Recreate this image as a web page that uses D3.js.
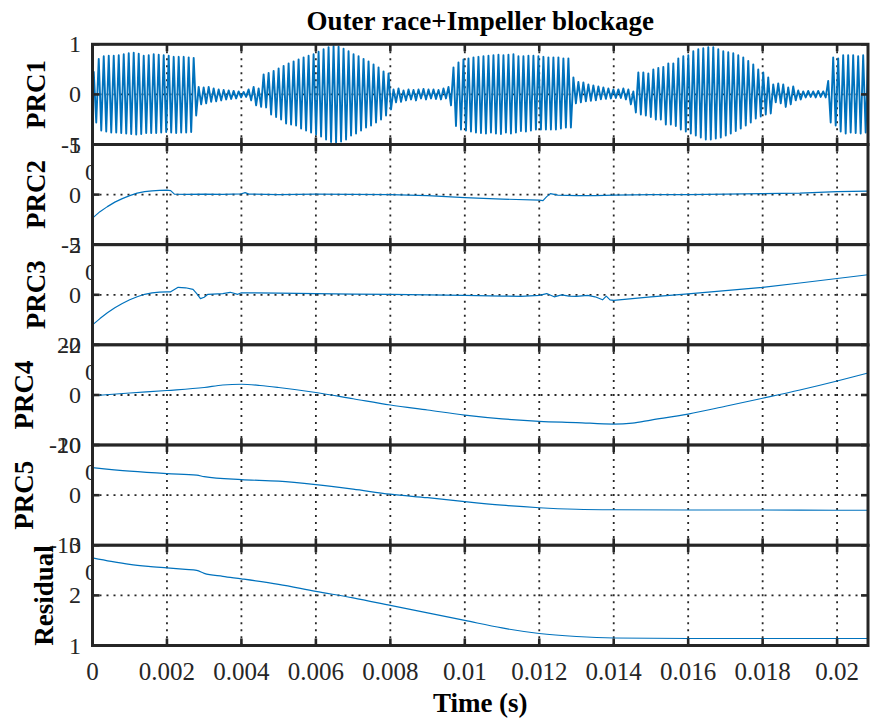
<!DOCTYPE html>
<html><head><meta charset="utf-8">
<script src="https://cdn.jsdelivr.net/npm/d3@7"></script>
<style>body{margin:0;background:#fff} svg{display:block}</style>
</head><body><svg id="c" width="872" height="722"></svg>
<script>
// ---------------- DATA ----------------
const chartTitle = "Outer race+Impeller blockage";
const xLabel = "Time (s)";
const timeTicks = [0,0.002,0.004,0.006,0.008,0.01,0.012,0.014,0.016,0.018,0.02];
const timeTickLabels = ["0","0.002","0.004","0.006","0.008","0.01","0.012","0.014","0.016","0.018","0.02"];
const timeMax = 0.02083;

const panelNames = ["PRC1","PRC2","PRC3","PRC4","PRC5","Residual"];
const panelDomains = [[-1,1],[-5,5],[-2,2],[-20,20],[-10,10],[1,3]];
const panelTicks = [[-1,0,1],[-5,0,5],[-2,0,2],[-20,0,20],[-10,0,10],[1,2,3]];
const panelGridValues = [0,0,0,0,0,2];

// PRC1: oscillation, one peak and one trough per cycle
const prc1Period = 0.0001342;
const prc1Hi = [0.45,0.71,0.76,0.77,0.77,0.78,0.80,0.82,0.83,0.81,0.77,0.78,0.80,0.79,0.78,0.77,0.75,0.75,0.75,0.74,0.73,
 0.15,0.14,0.15,0.12,0.10,0.09,0.08,0.07,0.06,0.05,
 0.10,0.15,0.12,
 0.40,0.43,0.47,0.52,0.57,0.62,0.66,0.70,0.74,0.77,0.80,0.85,0.90,0.94,0.96,0.95,0.91,0.86,0.80,0.76,0.71,0.66,0.60,0.54,0.46,0.42,
 0.10,0.12,0.08,0.10,0.09,0.10,0.11,0.10,0.10,0.09,0.12,0.15,
 0.54,0.64,0.70,0.72,0.74,0.75,0.76,0.77,0.78,0.79,0.78,0.79,0.80,0.76,0.76,0.77,0.77,0.76,0.75,0.74,0.74,0.74,0.72,0.72,
 0.34,0.25,0.24,0.20,0.18,0.16,0.14,0.12,0.10,0.10,0.12,0.10,0.06,
 0.44,0.44,0.42,0.50,0.53,0.55,0.62,0.62,0.72,0.76,0.78,0.86,0.90,0.92,0.94,0.94,0.90,0.86,0.84,0.82,0.78,0.74,0.67,0.60,0.50,0.44,0.34,
 0.20,0.22,0.20,0.14,0.16,0.08,
 0.06,0.07,0.06,0.07,0.06,
 0.27,0.74,0.72,0.78,0.78,0.78,0.76,0.78,0.80];
const prc1Lo = [-0.56,-0.72,-0.74,-0.76,-0.76,-0.77,-0.78,-0.79,-0.80,-0.79,-0.77,-0.77,-0.77,-0.76,-0.75,-0.76,-0.77,-0.76,-0.76,-0.75,-0.42,
 -0.20,-0.18,-0.15,-0.14,-0.12,-0.10,-0.09,-0.08,-0.06,-0.05,
 -0.12,-0.22,-0.25,
 -0.26,-0.40,-0.45,-0.50,-0.58,-0.60,-0.62,-0.68,-0.72,-0.76,-0.80,-0.84,-0.90,-0.95,-0.96,-0.94,-0.90,-0.82,-0.78,-0.72,-0.66,-0.62,-0.56,-0.50,-0.42,-0.30,
 -0.16,-0.15,-0.12,-0.10,-0.12,-0.08,-0.10,-0.08,-0.09,-0.10,-0.08,-0.22,
 -0.63,-0.70,-0.72,-0.74,-0.76,-0.77,-0.78,-0.76,-0.78,-0.79,-0.76,-0.78,-0.76,-0.73,-0.74,-0.72,-0.70,-0.70,-0.70,-0.70,-0.70,-0.68,-0.66,-0.66,
 -0.18,-0.16,-0.14,-0.13,-0.12,-0.10,-0.09,-0.08,-0.07,-0.07,-0.10,-0.20,-0.36,
 -0.40,-0.42,-0.45,-0.50,-0.50,-0.60,-0.60,-0.63,-0.70,-0.74,-0.78,-0.82,-0.86,-0.90,-0.90,-0.88,-0.86,-0.82,-0.78,-0.73,-0.68,-0.62,-0.56,-0.48,-0.44,-0.40,-0.38,
 -0.16,-0.18,-0.25,-0.20,-0.12,-0.10,
 -0.06,-0.05,-0.06,-0.05,-0.06,
 -0.56,-0.62,-0.74,-0.78,-0.76,-0.77,-0.78,-0.76,-0.78];

const prc2Time = [0,0.0002,0.0004,0.0006,0.0008,0.001,0.0012,0.0014,0.0016,0.0018,0.002,0.0021,0.0022,0.0025,0.003,0.0035,0.004,0.0041,0.0042,0.005,0.006,0.007,0.008,0.009,0.010,0.011,0.012,0.0121,0.0122,0.0123,0.0125,0.013,0.0135,0.014,0.015,0.016,0.017,0.018,0.019,0.020,0.02083];
const prc2Vals = [-2.35,-1.7,-1.2,-0.75,-0.4,-0.1,0.15,0.3,0.38,0.43,0.45,0.4,0.05,0.02,0.05,0.02,0.08,0.2,0.05,0.0,0.05,0.02,0.0,-0.1,-0.3,-0.45,-0.55,-0.6,-0.2,0.1,-0.05,-0.1,-0.1,-0.05,0.0,0.0,0.05,0.1,0.15,0.3,0.35];

const prc3Time = [0,0.0002,0.0004,0.0006,0.0008,0.001,0.0012,0.0014,0.0016,0.0018,0.002,0.0021,0.0023,0.0025,0.0027,0.0028,0.0029,0.003,0.0031,0.0035,0.0037,0.0039,0.004,0.005,0.006,0.007,0.008,0.009,0.010,0.011,0.0115,0.012,0.0122,0.0124,0.0126,0.0128,0.013,0.0133,0.0135,0.0137,0.0138,0.0139,0.014,0.015,0.016,0.017,0.018,0.019,0.020,0.02083];
const prc3Vals = [-1.2,-0.95,-0.72,-0.52,-0.35,-0.2,-0.08,0.02,0.08,0.11,0.12,0.12,0.3,0.28,0.22,0.05,-0.15,-0.1,0.02,0.05,0.1,0.02,0.08,0.07,0.05,0.03,0.02,0.0,-0.02,-0.05,-0.06,-0.02,0.05,-0.08,0.0,-0.05,-0.06,-0.02,-0.08,-0.2,-0.05,-0.2,-0.22,-0.08,0.04,0.17,0.3,0.47,0.65,0.8];

const prc4Time = [0,0.001,0.002,0.003,0.0035,0.004,0.0045,0.005,0.006,0.007,0.008,0.009,0.010,0.011,0.012,0.013,0.014,0.0145,0.015,0.016,0.017,0.018,0.019,0.020,0.02083];
const prc4Vals = [-0.3,0.8,1.8,3.0,4.0,4.3,3.8,3.0,1.0,-1.5,-4.0,-6.0,-8.0,-9.5,-10.5,-11.0,-11.6,-11.2,-10.0,-7.6,-4.5,-1.3,2.0,5.6,8.8];

const prc5Time = [0,0.001,0.002,0.0028,0.003,0.004,0.005,0.006,0.007,0.008,0.009,0.010,0.011,0.012,0.013,0.014,0.016,0.018,0.020,0.02083];
const prc5Vals = [5.5,4.8,4.3,4.0,3.7,3.1,2.8,2.1,1.2,0.2,-0.5,-1.3,-2.0,-2.5,-2.8,-2.9,-2.95,-2.95,-3.0,-3.0];

const residTime = [0,0.0005,0.001,0.0015,0.002,0.0025,0.0028,0.003,0.0035,0.004,0.005,0.006,0.007,0.008,0.009,0.010,0.011,0.012,0.013,0.014,0.016,0.018,0.020,0.02083];
const residVals = [2.75,2.68,2.62,2.58,2.55,2.52,2.5,2.44,2.38,2.33,2.22,2.08,1.95,1.8,1.65,1.5,1.35,1.24,1.18,1.15,1.14,1.14,1.14,1.14];

// ---------------- BUILD ----------------
const prc1Points = [[0,0]];
prc1Hi.forEach((h,k)=>{
  prc1Points.push([(k+0.25)*prc1Period, h]);
  prc1Points.push([(k+0.75)*prc1Period, prc1Lo[k]]);
});
const zip = (t,v)=>t.map((x,i)=>[x,v[i]]);
const panelSeries = [prc1Points, zip(prc2Time,prc2Vals), zip(prc3Time,prc3Vals), zip(prc4Time,prc4Vals), zip(prc5Time,prc5Vals), zip(residTime,residVals)];

const svg = d3.select("#c");
const serif = "'Liberation Serif','Times New Roman',Times,serif";
const ink = "#262626";
const lineColor = "#0072BD";
const left = 92.5, right = 868, top0 = 44.3, ph = 100.2;
const labelX = [45,45,45,33,33,53];

const x = d3.scaleLinear().domain([0,timeMax]).range([left,right]);

// hidden partial tick labels peeking behind the axes
for (let i=1;i<6;i++){
  svg.append("text").attr("x",85).attr("y",top0+i*ph+27).attr("dominant-baseline","central")
    .attr("font-family",serif).attr("font-size",24).attr("fill",ink).text("0");
}

svg.append("defs").selectAll("clipPath").data(panelNames).join("clipPath")
  .attr("id",(d,i)=>"clip"+i)
  .append("rect").attr("x",left).attr("y",(d,i)=>top0+i*ph).attr("width",right-left).attr("height",ph);

panelNames.forEach((name,i)=>{
  const y0 = top0 + i*ph, y1 = y0 + ph;
  const y = d3.scaleLinear().domain(panelDomains[i]).range([y1,y0]);
  const g = svg.append("g");
  g.append("rect").attr("x",left).attr("y",y0).attr("width",right-left).attr("height",ph).attr("fill","#fff");
  // grid
  g.selectAll("line.vg").data(timeTicks.slice(1)).join("line")
    .attr("x1",d=>x(d)).attr("x2",d=>x(d)).attr("y1",y0).attr("y2",y1)
    .attr("stroke",ink).attr("stroke-width",1.8).attr("stroke-dasharray","2,5");
  g.append("line").attr("x1",left).attr("x2",right).attr("y1",y(panelGridValues[i])).attr("y2",y(panelGridValues[i]))
    .attr("stroke",ink).attr("stroke-width",1.8).attr("stroke-dasharray","2,5");
  // series
  const line = d3.line().x(d=>x(d[0])).y(d=>y(d[1]));
  if (i>=3) line.curve(d3.curveMonotoneX);
  g.append("path").datum(panelSeries[i]).attr("d",line).attr("fill","none")
    .attr("stroke",lineColor).attr("stroke-width",i===0?1.9:1.2).attr("stroke-linejoin","round")
    .attr("clip-path",`url(#clip${i})`);
  // ticks (inside, mirrored)
  const tl = 7;
  timeTicks.forEach(t=>{
    g.append("line").attr("x1",x(t)).attr("x2",x(t)).attr("y1",y1).attr("y2",y1-tl).attr("stroke",ink).attr("stroke-width",2.6);
    g.append("line").attr("x1",x(t)).attr("x2",x(t)).attr("y1",y0).attr("y2",y0+tl).attr("stroke",ink).attr("stroke-width",2.6);
  });
  panelTicks[i].forEach(v=>{
    g.append("line").attr("x1",left).attr("x2",left+tl).attr("y1",y(v)).attr("y2",y(v)).attr("stroke",ink).attr("stroke-width",2.6);
    g.append("line").attr("x1",right).attr("x2",right-tl).attr("y1",y(v)).attr("y2",y(v)).attr("stroke",ink).attr("stroke-width",2.6);
  });
  // box
  g.append("rect").attr("x",left).attr("y",y0).attr("width",right-left).attr("height",ph)
    .attr("fill","none").attr("stroke",ink).attr("stroke-width",3);
  // y tick labels
  svg.append("g").selectAll("text").data(panelTicks[i]).join("text")
    .attr("x",81).attr("y",d=>y(d)).attr("text-anchor","end").attr("dominant-baseline","central")
    .attr("font-family",serif).attr("font-size",24).attr("fill",ink).text(d=>String(d));
  // y label
  svg.append("text").attr("transform",`translate(${labelX[i]},${(y0+y1)/2}) rotate(-90)`)
    .attr("text-anchor","middle").attr("font-family",serif).attr("font-weight","bold")
    .attr("font-size",27).attr("fill","#000").text(name);
});

// x tick labels
svg.append("g").selectAll("text").data(timeTicks).join("text")
  .attr("x",d=>x(d)).attr("y",680).attr("text-anchor","middle")
  .attr("font-family",serif).attr("font-size",25).attr("fill",ink)
  .text((d,i)=>timeTickLabels[i]);

svg.append("text").attr("x",(left+right)/2).attr("y",712).attr("text-anchor","middle")
  .attr("font-family",serif).attr("font-weight","bold").attr("font-size",27).attr("fill","#000").text(xLabel);
svg.append("text").attr("x",(left+right)/2).attr("y",30).attr("text-anchor","middle")
  .attr("font-family",serif).attr("font-weight","bold").attr("font-size",27).attr("fill","#000").text(chartTitle);
</script></body></html>
